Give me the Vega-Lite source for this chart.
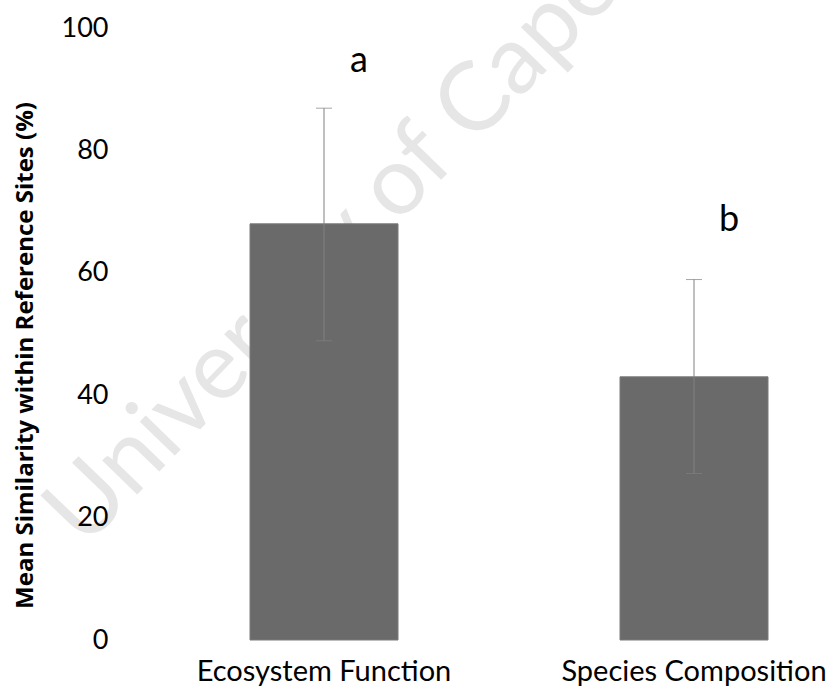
{
  "$schema": "https://vega.github.io/schema/vega-lite/v6.json",
  "width": 740,
  "height": 612,
  "autosize": {"type": "none"},
  "padding": {"left": 139, "top": 28, "right": 0, "bottom": 58},
  "background": "white",
  "config": {"view": {"stroke": null}, "font": "Lato"},
  "data": {
    "values": [
      {"group": "Ecosystem Function", "mean": 68.0, "lower": 48.9, "upper": 86.9, "letter": "a", "letterY": 92.8},
      {"group": "Species Composition", "mean": 43.0, "lower": 27.2, "upper": 58.9, "letter": "b", "letterY": 66.8}
    ]
  },
  "encoding": {
    "x": {
      "field": "group",
      "type": "nominal",
      "sort": null,
      "scale": {"paddingInner": 0.6, "paddingOuter": 0.3},
      "axis": {
        "title": null,
        "labelAngle": 0,
        "labelLimit": 0,
        "domain": false,
        "ticks": false,
        "labelFontSize": 29,
        "labelPadding": 17,
        "labelColor": "black",
        "zindex": 1
      }
    }
  },
  "layer": [
    {
      "data": {"values": [{"mark": "University of Cape Town"}]},
      "mark": {
        "type": "text",
        "angle": -46,
        "align": "center",
        "baseline": "middle",
        "dx": 138,
        "fontSize": 96,
        "color": "#e6e6e6"
      },
      "encoding": {
        "x": {"datum": "Ecosystem Function"},
        "y": {"datum": 62.2},
        "text": {"field": "mark"}
      }
    },
    {
      "mark": {"type": "bar", "color": "#6a6a6a", "stroke": "#7a7a7a", "strokeWidth": 1},
      "encoding": {
        "y": {
          "field": "mean",
          "type": "quantitative",
          "scale": {"domain": [0, 100]},
          "axis": {
            "values": [0, 20, 40, 60, 80, 100],
            "grid": false,
            "domain": false,
            "ticks": false,
            "labelFontSize": 27,
            "labelPadding": 31,
            "labelColor": "black",
            "title": "Mean Similarity within Reference Sites (%)",
            "titleFont": "Open Sans",
            "titleFontSize": 24,
            "titleFontWeight": "bold",
            "titleColor": "black",
            "titleBaseline": "middle",
            "titleX": -114,
            "titleY": 327,
            "zindex": 1
          }
        }
      }
    },
    {
      "mark": {"type": "rule", "color": "#808080", "strokeWidth": 1},
      "encoding": {
        "y": {"field": "lower", "type": "quantitative"},
        "y2": {"field": "upper"}
      }
    },
    {
      "mark": {"type": "tick", "color": "#808080", "thickness": 1, "size": 16},
      "encoding": {"y": {"field": "upper", "type": "quantitative"}}
    },
    {
      "mark": {"type": "tick", "color": "#808080", "thickness": 1, "size": 16},
      "encoding": {"y": {"field": "lower", "type": "quantitative"}}
    },
    {
      "mark": {"type": "text", "dx": 35, "fontSize": 36, "color": "black", "baseline": "alphabetic"},
      "encoding": {
        "y": {"field": "letterY", "type": "quantitative"},
        "text": {"field": "letter"}
      }
    }
  ]
}
